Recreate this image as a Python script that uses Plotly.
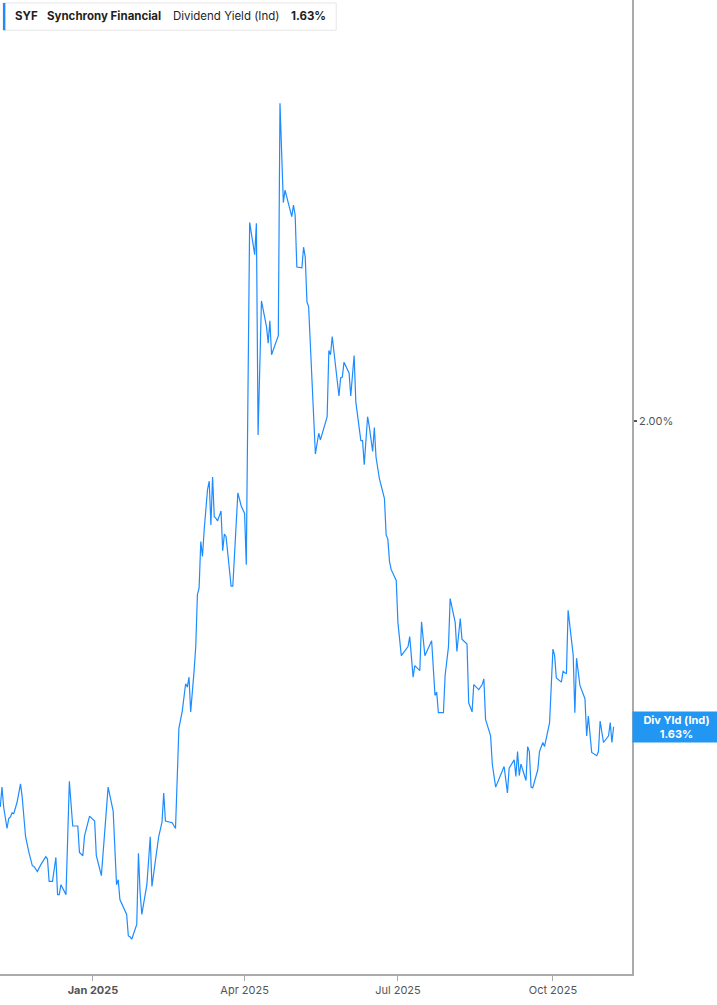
import plotly.graph_objects as go

# Dividend yield (%)
dates = [
    "2024-11-07", "2024-11-08", "2024-11-09", "2024-11-11", "2024-11-12", "2024-11-13", "2024-11-14",
    "2024-11-15", "2024-11-17", "2024-11-19", "2024-11-20", "2024-11-22", "2024-11-24", "2024-11-26",
    "2024-11-27", "2024-11-29", "2024-12-01", "2024-12-02", "2024-12-04", "2024-12-05", "2024-12-06",
    "2024-12-08", "2024-12-10", "2024-12-11", "2024-12-12", "2024-12-13", "2024-12-16", "2024-12-18",
    "2024-12-20", "2024-12-23", "2024-12-24", "2024-12-26", "2024-12-27", "2024-12-30", "2025-01-02",
    "2025-01-03", "2025-01-06", "2025-01-10", "2025-01-13", "2025-01-15", "2025-01-16", "2025-01-17",
    "2025-01-21", "2025-01-22", "2025-01-23", "2025-01-24", "2025-01-27", "2025-01-28", "2025-01-29",
    "2025-01-30", "2025-02-02", "2025-02-04", "2025-02-05", "2025-02-09", "2025-02-11", "2025-02-12",
    "2025-02-13", "2025-02-17", "2025-02-19", "2025-02-21", "2025-02-23", "2025-02-25", "2025-02-26",
    "2025-02-27", "2025-02-28", "2025-03-02", "2025-03-03", "2025-03-04", "2025-03-05", "2025-03-06",
    "2025-03-07", "2025-03-08", "2025-03-10", "2025-03-11", "2025-03-12", "2025-03-13", "2025-03-14",
    "2025-03-15", "2025-03-16", "2025-03-18", "2025-03-19", "2025-03-20", "2025-03-21", "2025-03-24",
    "2025-03-25", "2025-03-28", "2025-03-30", "2025-04-01", "2025-04-02", "2025-04-04", "2025-04-07",
    "2025-04-08", "2025-04-09", "2025-04-11", "2025-04-14", "2025-04-15", "2025-04-16", "2025-04-17",
    "2025-04-21", "2025-04-22", "2025-04-24", "2025-04-25", "2025-04-29", "2025-04-30", "2025-05-01",
    "2025-05-02", "2025-05-05", "2025-05-06", "2025-05-07", "2025-05-08", "2025-05-09", "2025-05-13",
    "2025-05-15", "2025-05-16", "2025-05-20", "2025-05-21", "2025-05-22", "2025-05-23", "2025-05-27",
    "2025-05-28", "2025-05-29", "2025-05-30", "2025-06-02", "2025-06-03", "2025-06-05", "2025-06-06",
    "2025-06-09", "2025-06-10", "2025-06-11", "2025-06-13", "2025-06-14", "2025-06-16", "2025-06-17",
    "2025-06-18", "2025-06-20", "2025-06-23", "2025-06-24", "2025-06-25", "2025-06-26", "2025-06-27",
    "2025-06-30", "2025-07-01", "2025-07-03", "2025-07-07", "2025-07-08", "2025-07-10", "2025-07-11",
    "2025-07-14", "2025-07-15", "2025-07-17", "2025-07-21", "2025-07-23", "2025-07-24", "2025-07-25",
    "2025-07-28", "2025-07-29", "2025-07-31", "2025-08-01", "2025-08-04", "2025-08-05", "2025-08-07",
    "2025-08-08", "2025-08-11", "2025-08-12", "2025-08-14", "2025-08-15", "2025-08-18", "2025-08-20",
    "2025-08-21", "2025-08-22", "2025-08-25", "2025-08-26", "2025-08-28", "2025-09-02", "2025-09-04",
    "2025-09-05", "2025-09-08", "2025-09-09", "2025-09-10", "2025-09-11", "2025-09-12", "2025-09-15",
    "2025-09-16", "2025-09-17", "2025-09-18", "2025-09-19", "2025-09-22", "2025-09-23", "2025-09-25",
    "2025-09-26", "2025-09-29", "2025-10-01", "2025-10-02", "2025-10-03", "2025-10-06", "2025-10-07",
    "2025-10-09", "2025-10-10", "2025-10-13", "2025-10-14", "2025-10-15", "2025-10-17", "2025-10-20",
    "2025-10-21", "2025-10-22", "2025-10-24", "2025-10-27", "2025-10-28", "2025-10-29", "2025-10-31",
    "2025-11-03", "2025-11-04", "2025-11-05", "2025-11-06",
]
div_yield = [
    1.533, 1.557, 1.533, 1.507, 1.519, 1.521, 1.526,
    1.525, 1.539, 1.561, 1.545, 1.497, 1.478, 1.462,
    1.461, 1.455, 1.463, 1.466, 1.473, 1.470, 1.443,
    1.443, 1.472, 1.427, 1.427, 1.439, 1.427, 1.564,
    1.510, 1.510, 1.478, 1.474, 1.498, 1.522, 1.516,
    1.474, 1.450, 1.557, 1.528, 1.439, 1.445, 1.421,
    1.403, 1.377, 1.376, 1.373, 1.391, 1.477, 1.429,
    1.403, 1.439, 1.497, 1.437, 1.497, 1.515, 1.550,
    1.516, 1.514, 1.507, 1.628, 1.649, 1.682, 1.678,
    1.690, 1.648, 1.697, 1.727, 1.790, 1.798, 1.854,
    1.836, 1.868, 1.917, 1.927, 1.874, 1.932, 1.884,
    1.882, 1.879, 1.891, 1.843, 1.863, 1.860, 1.800,
    1.800, 1.913, 1.897, 1.888, 1.826, 2.240, 2.201,
    2.239, 1.983, 2.145, 2.114, 2.094, 2.121, 2.080,
    2.103, 2.384, 2.264, 2.279, 2.247, 2.261, 2.249,
    2.186, 2.185, 2.210, 2.198, 2.144, 2.138, 1.960,
    1.985, 1.977, 2.005, 2.085, 2.080, 2.102, 2.030,
    2.052, 2.053, 2.071, 2.058, 2.030, 2.079, 2.023,
    1.976, 1.976, 1.947, 2.005, 1.993, 1.963, 1.992,
    1.956, 1.930, 1.906, 1.862, 1.857, 1.830, 1.820,
    1.807, 1.756, 1.716, 1.727, 1.739, 1.690, 1.704,
    1.698, 1.757, 1.716, 1.734, 1.668, 1.672, 1.647,
    1.647, 1.692, 1.727, 1.785, 1.756, 1.721, 1.761,
    1.736, 1.730, 1.659, 1.648, 1.681, 1.675, 1.681,
    1.688, 1.639, 1.619, 1.585, 1.557, 1.582, 1.550,
    1.580, 1.590, 1.570, 1.600, 1.571, 1.585, 1.565,
    1.606, 1.600, 1.557, 1.556, 1.578, 1.600, 1.611,
    1.606, 1.635, 1.724, 1.716, 1.689, 1.684, 1.697,
    1.694, 1.771, 1.717, 1.647, 1.713, 1.680, 1.664,
    1.619, 1.643, 1.599, 1.595, 1.600, 1.637, 1.611,
    1.619, 1.635, 1.611, 1.630,
]

x_ticks = ["2025-01-01", "2025-04-01", "2025-07-01", "2025-10-01"]
x_labels = ["<b>Jan 2025</b>", "Apr 2025", "Jul 2025", "Oct 2025"]
y_ticks = [2.0]
y_labels = ["2.00%"]

current = 1.63
BLUE = "#1e8cff"
FONT = "Inter"

fig = go.Figure()
fig.add_trace(go.Scatter(
    x=dates, y=div_yield, mode="lines",
    line=dict(color=BLUE, width=1.2),
    hoverinfo="skip", showlegend=False,
))

fig.update_layout(
    width=717, height=1005,
    margin=dict(l=0, r=85, t=0, b=31),
    paper_bgcolor="white", plot_bgcolor="white",
    font=dict(family=FONT, size=11, color="#555"),
    xaxis=dict(
        range=["2024-11-06 20:00", "2025-11-16 22:00"],
        tickvals=x_ticks, ticktext=x_labels,
        showgrid=False, zeroline=False,
        showline=True, linecolor="#aaa", linewidth=1.5,
        ticks="outside", ticklen=5, tickcolor="#aaa",
        tickfont=dict(family=FONT, size=11, color="#555"),
    ),
    yaxis=dict(
        side="right", range=[1.331, 2.509],
        tickvals=y_ticks, ticktext=y_labels,
        showgrid=False, zeroline=False,
        showline=True, linecolor="#aaa", linewidth=1.5, mirror=False,
        ticks="outside", ticklen=3, tickwidth=2, tickcolor="#555",
        tickfont=dict(family=FONT, size=11, color="#555"),
    ),
)

# current value tag on the right axis
fig.add_annotation(
    xref="paper", x=1.0, xanchor="left", yref="y", y=current, yanchor="middle",
    text=f"<b>Div Yld (Ind)<br>{current:.2f}%</b>",
    showarrow=False, align="center",
    font=dict(family=FONT, size=11, color="white"),
    bgcolor="#2196f3", width=85, height=28, borderpad=1,
)

# header box
fig.add_shape(type="rect", xref="paper", yref="paper",
              x0=0.0047, x1=0.532, y0=0.969, y1=0.9969,
              line=dict(color="#e6e6e6", width=1), fillcolor="white", layer="above")
fig.add_shape(type="rect", xref="paper", yref="paper",
              x0=0.0047, x1=0.0085, y0=0.969, y1=0.9969,
              line=dict(width=0), fillcolor=BLUE, layer="above")
header = [
    (13, "<b>SYF</b>"),
    (45, "<b>Synchrony Financial</b>"),
    (171, "Dividend Yield (Ind)"),
    (289, "<b>1.63%</b>"),
]
for px, txt in header:
    fig.add_annotation(
        xref="paper", x=px / 632, xanchor="left",
        yref="paper", y=1 - 16.5 / 974, yanchor="middle",
        text=txt, showarrow=False,
        font=dict(family=FONT, size=11.5, color="#1f1f1f"),
    )

fig.write_html(
    "out.html",
    config={"displayModeBar": False},
    post_script="document.body.style.margin='0';document.body.style.overflow='hidden';",
)
